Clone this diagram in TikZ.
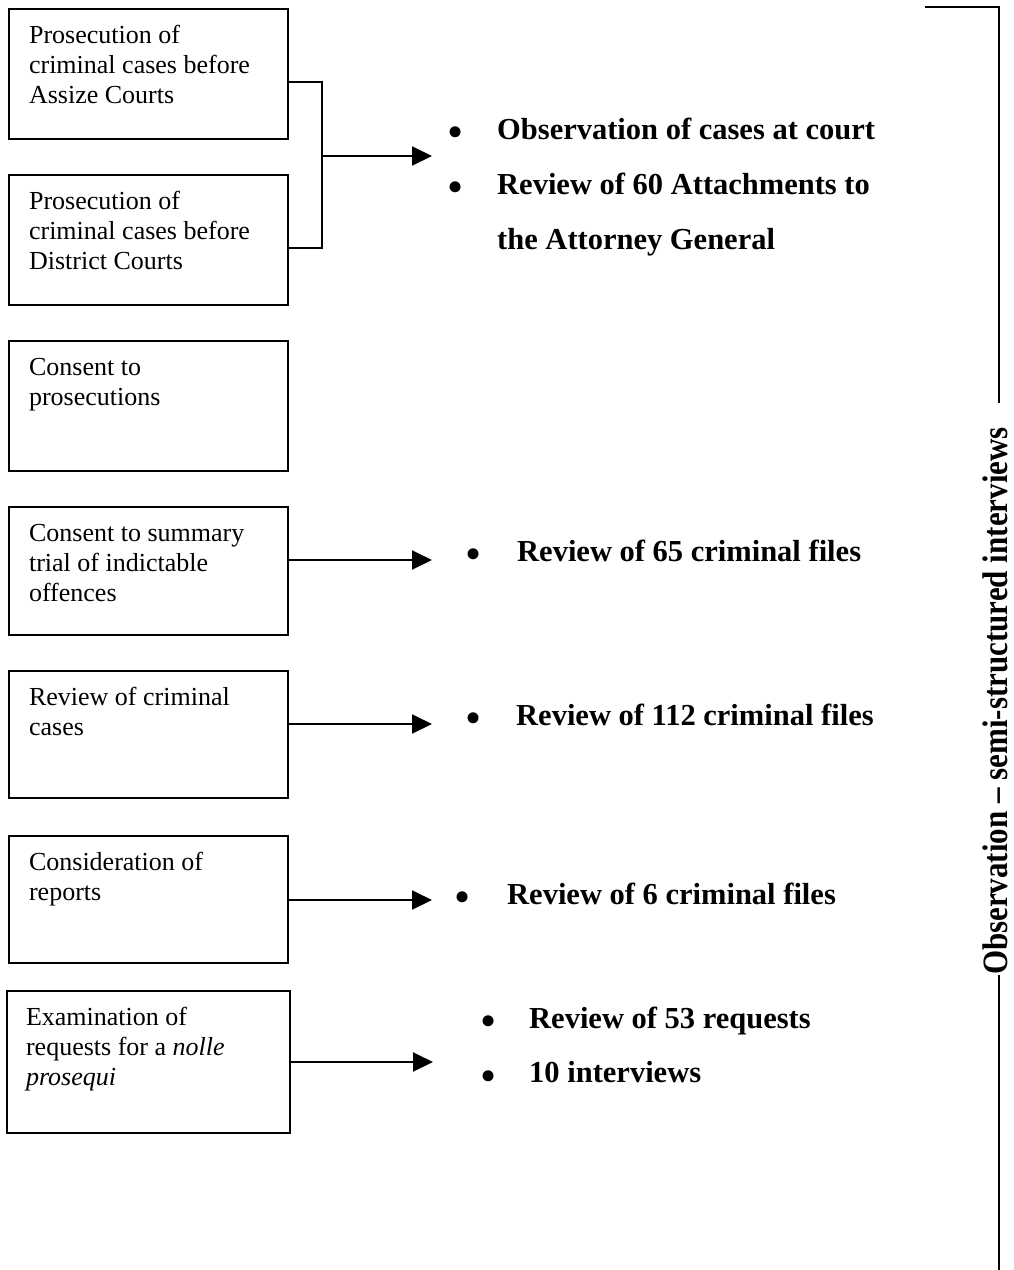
\documentclass[tikz,border=0pt]{standalone}
\usepackage{fontspec}
\setmainfont{Liberation Serif}
\usetikzlibrary{arrows.meta,calc}
\newcommand{\bxtext}[4]{\parbox[t][#2][t]{#1}{\raggedright\leftskip=#3\relax\fontsize{26}{30}\selectfont\vspace*{13pt}\strut #4}}
\begin{document}
\begin{tikzpicture}[x=1pt,y=1pt,
  box/.style={draw, line width=2.1pt, inner sep=0pt, anchor=north west},
  arr/.style={line width=2pt, -{Triangle[length=20pt,width=19pt]}},
  con/.style={line width=2.2pt},
  item/.style={inner sep=0pt, anchor=base west, font=\fontsize{30.5}{55}\selectfont\bfseries},
  bul/.style={inner sep=0pt, font=\fontsize{46}{46}\selectfont}]
\fill[white] (0,0) rectangle (1013,-1270);
\useasboundingbox (0,0) rectangle (1013,-1270);

% boxes
\node[box] (b1) at (8,-8) {\bxtext{279pt}{130pt}{20pt}{Prosecution of\\criminal cases before\\Assize Courts}};
\node[box] (b2) at (8,-174) {\bxtext{279pt}{130pt}{20pt}{Prosecution of\\criminal cases before\\District Courts}};
\node[box] (b3) at (8,-340) {\bxtext{279pt}{130pt}{20pt}{Consent to\\prosecutions}};
\node[box] (b4) at (8,-506) {\bxtext{279pt}{128pt}{20pt}{Consent to summary\\trial of indictable\\offences}};
\node[box] (b5) at (8,-670) {\bxtext{279pt}{127pt}{20pt}{Review of criminal\\cases}};
\node[box] (b6) at (8,-835) {\bxtext{279pt}{127pt}{20pt}{Consideration of\\reports}};
\node[box] (b7) at (6,-990) {\bxtext{283pt}{142pt}{19pt}{Examination of\\requests for a \textit{nolle}\\\textit{prosequi}}};

% connectors
\coordinate (jt) at (322,-82);
\coordinate (jb) at (322,-248);
\coordinate (jm) at (322,-156);
\coordinate (t1) at (432,-156);
\draw[con] (b1.east |- jt) -- (jt) -- (jb) -- (b2.east |- jb);
\draw[arr] (jm) -- (t1);
\coordinate (t4) at (432,-560);
\coordinate (t5) at (432,-724);
\coordinate (t6) at (432,-900);
\coordinate (t7) at (433,-1062);
\draw[arr] (b4.east |- t4) -- (t4);
\draw[arr] (b5.east |- t5) -- (t5);
\draw[arr] (b6.east |- t6) -- (t6);
\draw[arr] (b7.east |- t7) -- (t7);

% bullet items
\node[bul] (u1) at (456,-137) {•};
\node[item] (i1) at (497,-139) {Observation of cases at court};
\node[bul] (u2) at (456,-192) {•};
\node[item] (i2) at (497,-194) {\parbox[t]{420pt}{Review of 60 Attachments to\\the Attorney General}};
\node[bul] (u3) at (474,-559) {•};
\node[item] (i3) at (517,-561) {Review of 65 criminal files};
\node[bul] (u4) at (474,-723) {•};
\node[item] (i4) at (516,-725) {Review of 112 criminal files};
\node[bul] (u5) at (463,-902) {•};
\node[item] (i5) at (507,-904) {Review of 6 criminal files};
\node[bul] (u6) at (489,-1026) {•};
\node[item] (i6) at (529,-1028) {Review of 53 requests};
\node[bul] (u7) at (489,-1081) {•};
\node[item] (i7) at (529,-1082) {10 interviews};

% right vertical line with rotated label
\coordinate (tl) at (925,-7);
\coordinate (tr) at (999,-7);
\coordinate (br) at (999,-1270);
\node[rotate=90, anchor=base, inner sep=0pt] (obs) at (1007,-701)
  {\scalebox{1}[1.15]{\fontsize{31}{31}\selectfont\bfseries Observation – semi-structured interviews}};
\draw[con] (tl) -- (tr) -- ($(tr |- obs.east)+(0,24)$);
\draw[con] (tr |- obs.west) -- (br);
\end{tikzpicture}
\end{document}
